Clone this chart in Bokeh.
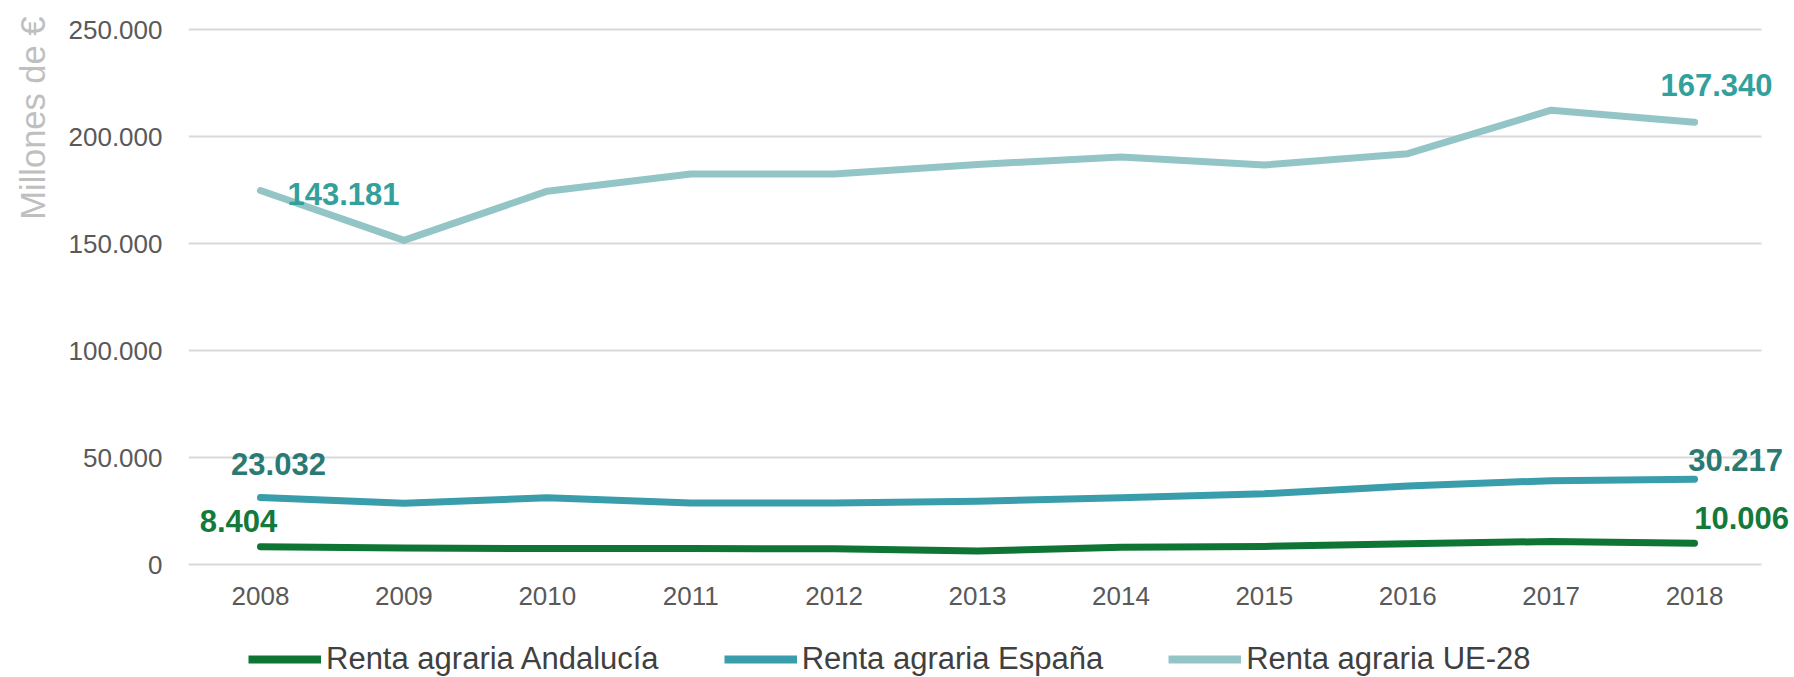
from bokeh.plotting import figure
from bokeh.layouts import column
from bokeh.models import Range1d, FixedTicker, Legend, LegendItem, Title
from bokeh.embed import file_html
from bokeh.resources import INLINE
from bokeh.core.properties import value

# ---- data ----
years = [2008, 2009, 2010, 2011, 2012, 2013, 2014, 2015, 2016, 2017, 2018]
andalucia = [8400, 7800, 7600, 7600, 7500, 6400, 8200, 8600, 9800, 10900, 10100]
espana = [31400, 28800, 31300, 28900, 28900, 29700, 31300, 33200, 36800, 39300, 40000]
ue28 = [174800, 151500, 174500, 182500, 182500, 187000, 190500, 186700, 192000, 212300, 206700]

series_names = ["Renta agraria Andalucía", "Renta agraria España", "Renta agraria UE-28"]
first_labels = ["8.404", "23.032", "143.181"]
last_labels = ["10.006", "30.217", "167.340"]
y_ticks = [0, 50000, 100000, 150000, 200000, 250000]
y_title = "Millones de €"

FONT = "Liberation Sans"
c_and, c_esp, c_ue = "#0f7535", "#3a9dab", "#93c5c7"
l_and, l_esp, l_ue = "#137a3c", "#2a7a74", "#33a09c"
W = 1792

p = figure(width=W, height=622, output_backend="svg", toolbar_location=None,
           x_range=Range1d(2007.498, 2018.683), y_range=Range1d(-1728, 261209),
           min_border_left=188, min_border_right=0, min_border_top=5,
           min_border_bottom=54)
p.outline_line_color = None
p.background_fill_color = "white"
p.border_fill_color = "white"

# grid
p.xgrid.visible = False
p.ygrid.ticker = FixedTicker(ticks=y_ticks)
p.ygrid.grid_line_color = "#d9d9d9"
p.ygrid.grid_line_width = 2
p.ygrid.cross_bounds = (years[0] - 0.5, years[-1] + 0.47)

# axes
for ax in (p.xaxis[0], p.yaxis[0]):
    ax.axis_line_color = None
    ax.major_tick_line_color = None
    ax.minor_tick_line_color = None
    ax.major_label_text_font = FONT
    ax.major_label_text_font_size = "26px"
    ax.major_label_text_color = "#595959"
p.xaxis.ticker = FixedTicker(ticks=years)
p.xaxis.major_label_standoff = 12
p.yaxis.ticker = FixedTicker(ticks=y_ticks)
p.yaxis.major_label_overrides = {t: f"{t:,}".replace(",", ".") for t in y_ticks}
p.yaxis.major_label_standoff = 20

p.add_layout(Title(text=y_title, align="right", vertical_align="top", offset=11,
                   standoff=24, text_font=FONT, text_font_size="34.5px",
                   text_color="#bfbfbf", text_font_style="normal"), "left")

# lines
line_kw = dict(line_width=7, line_join="round", line_cap="round")
p.line(years, ue28, line_color=c_ue, **line_kw)
p.line(years, espana, line_color=c_esp, **line_kw)
p.line(years, andalucia, line_color=c_and, **line_kw)

# data labels
lab_kw = dict(text_font=value(FONT), text_font_size="31px", text_font_style="bold",
              text_align="center", text_baseline="middle")
p.text(x=[years[0]], y=[ue28[0]], text=[first_labels[2]], x_offset=83, y_offset=3,
       text_color=l_ue, **lab_kw)
p.text(x=[years[-1]], y=[ue28[-1]], text=[last_labels[2]], x_offset=22, y_offset=-37,
       text_color=l_ue, **lab_kw)
p.text(x=[years[0]], y=[espana[0]], text=[first_labels[1]], x_offset=18, y_offset=-34,
       text_color=l_esp, **lab_kw)
p.text(x=[years[-1]], y=[espana[-1]], text=[last_labels[1]], x_offset=41, y_offset=-19,
       text_color=l_esp, **lab_kw)
p.text(x=[years[0]], y=[andalucia[0]], text=[first_labels[0]], x_offset=-22, y_offset=-26,
       text_color=l_and, **lab_kw)
p.text(x=[years[-1]], y=[andalucia[-1]], text=[last_labels[0]], x_offset=47, y_offset=-25,
       text_color=l_and, **lab_kw)

# legend strip (same series, drawn out of view; only the legend shows)
p2 = figure(width=W, height=55, output_backend="svg", toolbar_location=None,
            x_range=p.x_range, y_range=Range1d(-3e6, -2e6), min_border=0)
p2.axis.visible = False
p2.grid.visible = False
p2.outline_line_color = None
p2.background_fill_color = "white"
p2.border_fill_color = "white"
leg_kw = dict(line_width=8, line_cap="butt")
g_and = p2.line(years, andalucia, line_color=c_and, **leg_kw)
g_esp = p2.line(years, espana, line_color=c_esp, **leg_kw)
g_ue = p2.line(years, ue28, line_color=c_ue, **leg_kw)

legend = Legend(items=[LegendItem(label=series_names[0], renderers=[g_and]),
                       LegendItem(label=series_names[1], renderers=[g_esp]),
                       LegendItem(label=series_names[2], renderers=[g_ue])],
                orientation="horizontal", location=(60, 0), padding=0, margin=0,
                spacing=65, glyph_width=73, glyph_height=34, label_height=34,
                label_standoff=5, label_text_font=FONT, label_text_font_size="31px",
                label_text_color="#404040", border_line_color=None,
                background_fill_alpha=0)
p2.add_layout(legend, "center")

layout = column(p, p2, spacing=0)
open("out.html", "w").write(file_html(layout, INLINE))
